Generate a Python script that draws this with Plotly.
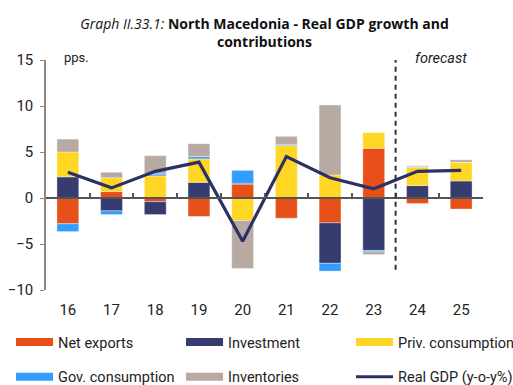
import plotly.graph_objects as go

# Contributions to real GDP growth, percentage points
years = ['16', '17', '18', '19', '20', '21', '22', '23', '24', '25']
net_exports = [-2.8, 0.7, -0.4, -2.0, 1.5, -2.2, -2.7, 5.4, -0.6, -1.2]
investment = [2.3, -1.4, -1.4, 1.7, 0.1, 0.0, -4.4, -5.7, 1.35, 1.85]
priv_consumption = [2.7, 1.5, 2.4, 2.55, -2.45, 5.7, 2.5, 1.7, 2.0, 2.05]
gov_consumption = [-0.85, -0.4, 0.2, 0.25, 1.4, 0.1, -0.85, -0.15, 0.05, 0.0]
inventories = [1.4, 0.6, 2.0, 1.4, -5.2, 0.9, 7.6, -0.3, 0.1, 0.25]
real_gdp = [2.8, 1.1, 2.9, 3.9, -4.7, 4.5, 2.2, 1.0, 2.9, 3.0]

FONT = "Roboto"
TITLE_FONT = "Open Sans"
C_NX = "#E8501A"
C_INV = "#363B70"
C_PC = "#FFD624"
C_GC = "#339DFF"
C_STOCK = "#B8A9A2"
C_GDP = "#2B3165"

# (name, values, colour, legend column)
components = [
    ("Net exports", net_exports, C_NX, "legend"),
    ("Investment", investment, C_INV, "legend2"),
    ("Priv. consumption", priv_consumption, C_PC, "legend3"),
    ("Gov. consumption", gov_consumption, C_GC, "legend"),
    ("Inventories", inventories, C_STOCK, "legend2"),
]

fig = go.Figure()
for name, vals, col, _ in components:
    fig.add_trace(go.Bar(
        x=years, y=vals, name=name, showlegend=False,
        marker=dict(color=col, line=dict(color="rgba(255,255,255,0.6)", width=0.6)),
    ))

fig.add_trace(go.Scatter(
    x=years, y=real_gdp, mode="lines", name="Real GDP (y-o-y%)",
    line=dict(color=C_GDP, width=3.2), showlegend=False,
))

# Legend entries drawn as wide swatches, one legend per column
for name, _, col, lg in components:
    fig.add_trace(go.Scatter(
        x=[None], y=[None], mode="lines", name=name, legend=lg, legendgroup=name,
        line=dict(color=col, width=8),
    ))
fig.add_trace(go.Scatter(
    x=[None], y=[None], mode="lines", name="Real GDP (y-o-y%)", legend="legend3",
    legendgroup="gdp", line=dict(color=C_GDP, width=3),
))

# Zero-line axis with category separators
fig.add_trace(go.Scatter(x=[0], y=[None], xaxis="x2", showlegend=False,
                         hoverinfo="skip", mode="markers"))

def legend_at(x):
    return dict(
        orientation="v", xanchor="left", yanchor="middle", x=x, y=-0.302,
        font=dict(family=FONT, size=14.5, color="#222"),
        itemwidth=37, tracegroupgap=13,
        bgcolor="rgba(0,0,0,0)", traceorder="grouped",
    )

fig.update_layout(
    width=513, height=385,
    margin=dict(l=46, r=30, t=60, b=95, autoexpand=False),
    paper_bgcolor="white", plot_bgcolor="white",
    barmode="relative", bargap=0.5,
    title=dict(
        text="<i>Graph II.33.1:</i> <b>North Macedonia - Real GDP growth and<br>contributions</b>",
        x=264.5 / 513, xanchor="center", y=0.925, yanchor="top",
        font=dict(family=TITLE_FONT, size=14, color="#111"),
    ),
    font=dict(family=FONT, color="#222"),
    xaxis=dict(
        type="category", showline=False, ticks="", showgrid=False,
        tickfont=dict(family=FONT, size=15, color="#222"),
        range=[-0.5, 9.5], ticklabelstandoff=9,
    ),
    xaxis2=dict(
        overlaying="x", anchor="free", position=0.4, side="bottom",
        range=[-0.5, 9.5], showline=True, linecolor="#555", linewidth=1.5,
        ticks="inside", ticklen=4, tickcolor="#555", tickwidth=1.5,
        tickvals=[i + 0.5 for i in range(-1, 10)], showticklabels=False,
        showgrid=False, zeroline=False,
    ),
    yaxis=dict(
        range=[-10, 15], dtick=5, showline=True, linecolor="#888", linewidth=1.5,
        ticks="outside", ticklen=4, tickcolor="#888", showgrid=False, zeroline=False,
        tickfont=dict(family=FONT, size=15, color="#222"), ticklabelstandoff=4,
    ),
    legend=legend_at(-0.080),
    legend2=legend_at(0.309),
    legend3=legend_at(0.698),
    shapes=[dict(
        type="line", xref="x2", yref="y", x0=7.5, x1=7.5, y0=-7.8, y1=15.8,
        line=dict(color="#333", width=2, dash="5px,4px"),
    )],
    annotations=[
        dict(text="pps.", xref="paper", yref="paper", x=(62 - 46) / 437, y=(290 - 57) / 230,
             xanchor="left", yanchor="middle", showarrow=False,
             font=dict(family=FONT, size=13, color="#222")),
        dict(text="<i>forecast</i>", xref="paper", yref="paper", x=(413 - 46) / 437,
             y=(290 - 58) / 230, xanchor="left", yanchor="middle", showarrow=False,
             font=dict(family=FONT, size=14.5, color="#222")),
    ],
)

fig.write_html("out.html")
